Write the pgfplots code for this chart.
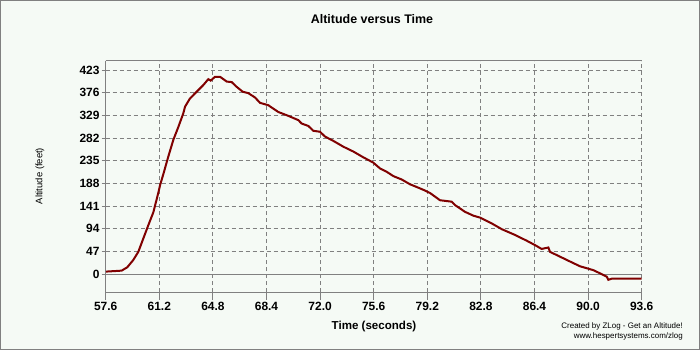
\documentclass[border=0pt]{standalone}
\usepackage{pgfplots}
\pgfplotsset{compat=1.18}
\usepackage{fontspec}
\setmainfont{Liberation Sans}
\definecolor{bgc}{RGB}{245,250,245}
\definecolor{bordc}{RGB}{128,128,128}
\definecolor{gridc}{RGB}{128,128,128}
\definecolor{linec}{RGB}{128,0,0}
\begin{document}
\begin{tikzpicture}[x=1bp,y=1bp]
\fill[bgc] (0,0) rectangle (700,350);
\draw[bordc,line width=1bp] (0.5,0.5) rectangle (699.5,349.5);
\begin{axis}[
  at={(105.7bp,58bp)}, anchor=south west,
  width=536bp, height=231bp, scale only axis,
  xmin=57.6, xmax=93.6, ymin=-37.3, ymax=441.7,
  xtick={57.6,61.2,64.8,68.4,72.0,75.6,79.2,82.8,86.4,90.0,93.6},
  xticklabels={57.6,61.2,64.8,68.4,72.0,75.6,79.2,82.8,86.4,90.0,93.6},
  ytick={0,47,94,141,188,235,282,329,376,423},
  yticklabels={0,47,94,141,188,235,282,329,376,423},
  grid=major,
  major grid style={gridc, line width=1bp, dash pattern=on 4bp off 3bp},
  axis line style={draw=none},
  tick align=outside,
  xtick pos=bottom, ytick pos=left,
  major tick length=4bp,
  xtick style={gridc, line width=1bp, /pgfplots/major tick length=8bp},
  ytick style={gridc, line width=1bp},
  /pgf/number format/assume math mode=true,
  ticklabel style={font=\bfseries\fontsize{12}{12}\selectfont},
  xticklabel style={anchor=north, inner sep=0pt, yshift=-6bp},
  yticklabel style={anchor=east, inner sep=0pt, xshift=-2bp},
  clip=false,
]
\draw[gridc, line width=1bp] (rel axis cs:0,1) -- (rel axis cs:0,0) -- (rel axis cs:1,0);
\draw[gridc, line width=1bp] (rel axis cs:0,1) -- (rel axis cs:1,1);
\draw[gridc, line width=1bp] (axis cs:57.6,0) -- (axis cs:93.6,0);
\addplot[linec, line width=2bp, mark=none] coordinates {
(57.62,5) (58.67,7) (59.05,14) (59.45,29) (59.79,46) (60.13,74) (60.46,101)
(60.80,128) (61.13,168) (61.25,184) (61.47,207) (61.80,243) (62.14,278)
(62.48,305) (62.81,333) (62.93,347) (63.26,364) (63.71,378) (64.16,392)
(64.49,404) (64.65,401) (64.94,409) (65.28,409) (65.73,399) (66.06,398)
(66.40,388) (66.80,378) (67.18,375) (67.63,366) (67.96,355) (68.52,350)
(69.19,336) (69.86,328) (70.54,319) (70.76,312) (71.21,307) (71.54,297)
(71.99,295) (72.33,285) (72.89,276) (73.56,264) (74.23,254) (74.90,242)
(75.57,231) (76.02,219) (76.47,212) (76.92,203) (77.48,196) (78.04,186)
(78.60,179) (79.05,173) (79.38,168) (79.83,158) (80.05,153) (80.84,150)
(81.06,143) (81.73,129) (82.29,121) (82.74,117) (83.52,105) (84.20,93)
(85.09,81) (85.88,69) (86.43,60) (86.88,52) (87.33,55) (87.44,46)
(88.11,36) (88.78,26) (89.46,16) (89.91,12) (90.35,8) (90.80,1.4)
(91.25,-5.5) (91.36,-12) (91.58,-9.7) (93.6,-9.7)
};
\end{axis}
\node[font=\bfseries\fontsize{12.5}{12.5}\selectfont] at (372,331) {Altitude versus Time};
\node[font=\bfseries\fontsize{11.6}{11.6}\selectfont] at (374,23) {Time (seconds)};
\node[font=\fontsize{9.5}{9.5}\selectfont, rotate=90] at (40,174) {Altitude (feet)};
\node[font=\fontsize{8}{8}\selectfont, anchor=east, inner sep=0pt] at (683,24) {Created by ZLog - Get an Altitude!};
\node[font=\fontsize{8}{8}\selectfont, anchor=east, inner sep=0pt] at (683,14) {www.hespertsystems.com/zlog};
\end{tikzpicture}
\end{document}
